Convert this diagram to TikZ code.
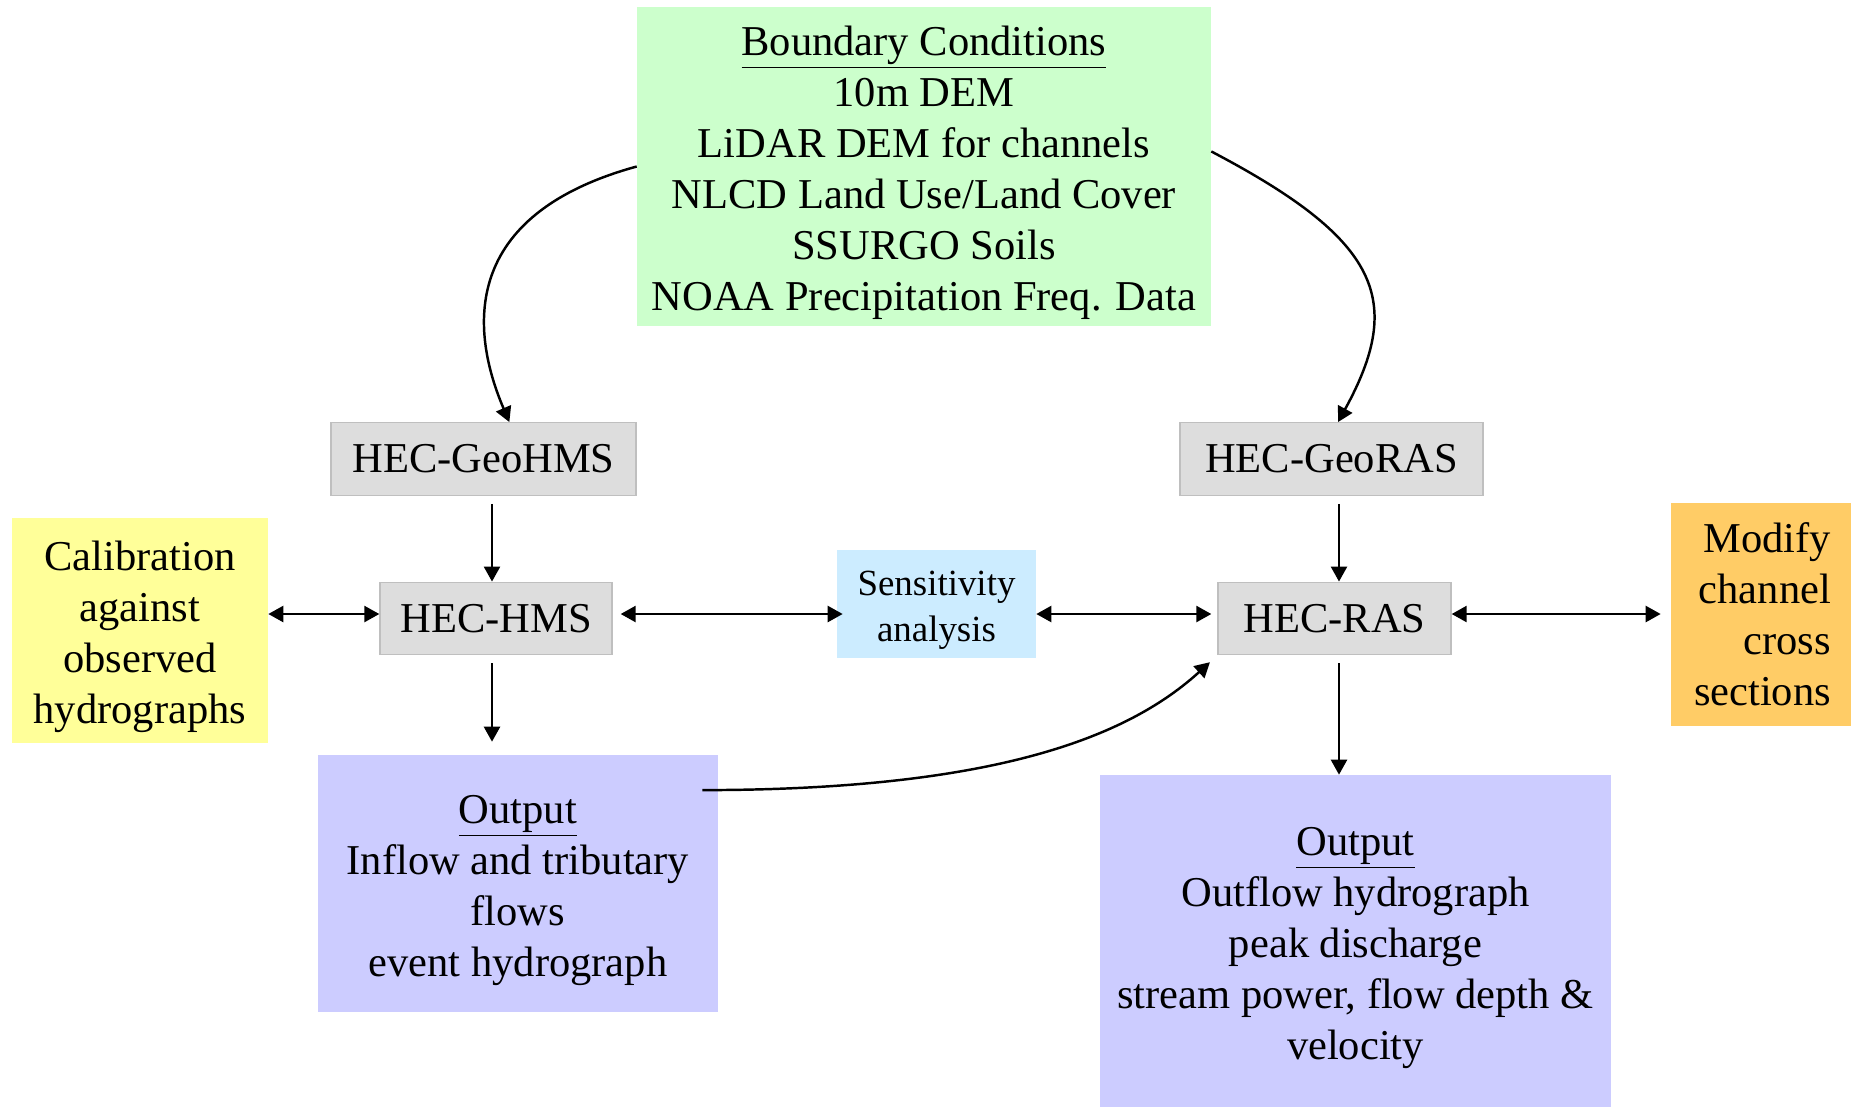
\documentclass[tikz,border=0pt]{standalone}
\usepackage{fontspec}
\setmainfont{Liberation Serif}
\usetikzlibrary{arrows.meta}

\definecolor{hecgray}{HTML}{DDDDDD}
\definecolor{hecedge}{HTML}{BFBFBF}
\definecolor{bcgreen}{HTML}{CCFFCC}
\definecolor{calyellow}{HTML}{FFFF99}
\definecolor{sensblue}{HTML}{CCECFF}
\definecolor{outviolet}{HTML}{CCCCFF}
\definecolor{modorange}{HTML}{FFCC66}

% premiere ligne un peu plus haute (texte centre comme dans les boites d'origine)
\newcommand{\hautligne}{\rule{0pt}{1em}}

\begin{document}
\begin{tikzpicture}[x=0.02cm,y=-0.02cm,
    txt/.style={inner sep=0pt, align=center, font=\fontsize{24.2}{29}\selectfont},
    hec/.style={txt, fill=hecgray, draw=hecedge, line width=0.8pt,
                minimum height=1.45cm},
    fleche/.style={-{Triangle[length=0.3cm,width=0.32cm]}, line width=1.4pt},
    bifleche/.style={{Triangle[length=0.3cm,width=0.32cm]}-{Triangle[length=0.3cm,width=0.32cm]},
                     line width=1.4pt}]

    \useasboundingbox (0,0) rectangle (1856,1107);

    % Boites
    \node[txt, fill=bcgreen, minimum width=11.48cm, minimum height=6.38cm] (bc) at (924,166.5)
        {\hautligne\underline{Boundary Conditions}\\10m DEM\\LiDAR DEM for channels\\
         NLCD Land Use/Land Cover\\SSURGO Soils\\NOAA Precipitation Freq. Data};

    \node[hec, minimum width=6.1cm] (geohms) at (483.5,459) {HEC-GeoHMS};
    \node[hec, minimum width=6.06cm] (georas) at (1331.5,459) {HEC-GeoRAS};

    \node[txt, fill=calyellow, minimum width=5.12cm, minimum height=4.5cm] (cal) at (140,630.5)
        {\hautligne Calibration\\against\\observed\\hydrographs};

    \node[hec, minimum width=4.64cm] (hms) at (496,618.5) {HEC-HMS};
    \node[hec, minimum width=4.66cm] (ras) at (1334.5,618.5) {HEC-RAS};

    \node[txt, fill=sensblue, font=\fontsize{21}{26}\selectfont,
          minimum width=3.98cm, minimum height=2.16cm] (sens) at (936.5,604)
        {\hautligne Sensitivity\\analysis};

    \node[txt, fill=modorange, align=right, text width=2.8cm,
          minimum width=3.6cm, minimum height=4.46cm] (mod) at (1761,614.5)
        {Modify\\channel\\cross\\sections};

    \node[txt, fill=outviolet, minimum width=8cm, minimum height=5.14cm] (outl) at (518,883.5)
        {\hautligne\underline{Output}\\Inflow and tributary\\flows\\event hydrograph};

    \node[txt, fill=outviolet, minimum width=10.22cm, minimum height=6.64cm] (outr) at (1355.5,941)
        {\hautligne\underline{Output}\\Outflow hydrograph\\peak discharge\\
         stream power, flow depth \&\\velocity};

    % ---- Fleches ----
    % Conditions aux limites
    \draw[fleche] (bc.west) .. controls (460,215) and (470,330) .. (geohms.55);
    \draw[fleche] (bc.3) .. controls (1380,240) and (1405,300) .. (georas.80);

    % Verticales
    \draw[fleche, shorten <=0.16cm] ([xshift=-0.08cm]hms.north |- geohms.south) -- ([xshift=-0.08cm]hms.north);
    \draw[fleche, shorten <=0.16cm, shorten >=0.26cm] ([xshift=-0.08cm]hms.south) -- ([xshift=-0.08cm]hms.south |- outl.north);
    \draw[fleche, shorten <=0.16cm] ([xshift=0.09cm]ras.north |- georas.south) -- ([xshift=0.09cm]ras.north);
    \draw[fleche, shorten <=0.16cm] ([xshift=0.09cm]ras.south) -- ([xshift=0.09cm]ras.south |- outr.north);

    % Horizontales
    \draw[bifleche] ([yshift=0.09cm]hms.west -| cal.east) -- ([yshift=0.09cm]hms.west);
    \draw[bifleche, shorten <=0.16cm, shorten >=-0.12cm] ([yshift=0.09cm]hms.east) -- ([yshift=0.09cm]hms.east -| sens.west);
    \draw[bifleche, shorten >=0.12cm] ([yshift=0.09cm]sens.east |- ras.west) -- ([yshift=0.09cm]ras.west);
    \draw[bifleche, shorten >=0.2cm] ([yshift=0.09cm]ras.east) -- ([yshift=0.09cm]ras.east -| mod.west);

    % Sortie HMS vers HEC-RAS
    \draw[fleche, shorten >=0.2cm] ([xshift=-0.32cm]outl.25) .. controls (1000,790) and (1130,735) .. (ras.south west);

\end{tikzpicture}
\end{document}
